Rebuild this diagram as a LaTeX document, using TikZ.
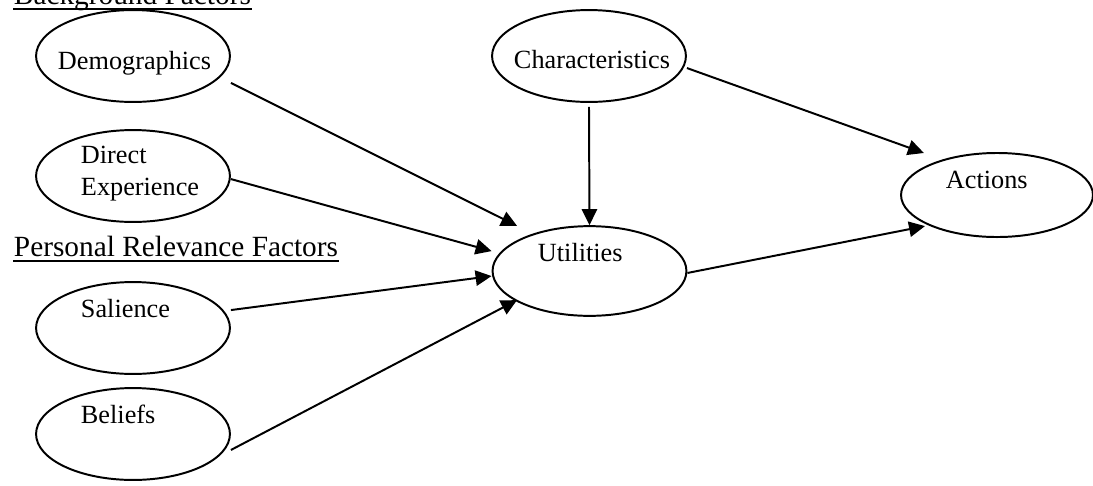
\documentclass[tikz,border=0pt]{standalone}
\usepackage{fontspec}
\setmainfont{Liberation Serif}
\usetikzlibrary{arrows.meta,shapes.geometric}

\begin{document}
\begin{tikzpicture}[x=0.457pt,y=-0.457pt,line width=.9pt,
    oval/.style={draw,ellipse,inner sep=0pt,minimum width=88.6pt,minimum height=42pt},
    txt/.style={anchor=base west,inner sep=0pt,font=\fontsize{12}{14}\selectfont},
    head/.style={txt,font=\fontsize{13.4}{16}\selectfont},
    arr/.style={-{Triangle[length=7.3pt,width=7pt]}},
    uline/.style={line width=.5pt}]

        \useasboundingbox (0,0) rectangle (1093,485);

        % ovals
        \node[oval] (dem) at (133,56) {};
        \node[oval] (dir) at (133,176) {};
        \node[oval] (sal) at (133,328) {};
        \node[oval] (bel) at (133,434) {};
        \node[oval] (cha) at (589,56) {};
        \node[oval,minimum height=41pt] (uti) at (589.5,271) {};
        \node[oval,minimum width=87.7pt,minimum height=38.4pt] (act) at (997,195) {};

        % texts
        \node[head] (bg) at (13,4) {Background Factors};
        \node[head] (pr) at (13,256) {Personal Relevance Factors};
        \node[txt] (dem-t) at (57,69) {Demographics};
        \node[txt] (dir-t) at (80,163) {Direct};
        \node[txt] (exp-t) at (80,195) {Experience};
        \node[txt] (sal-t) at (80,317) {Salience};
        \node[txt] (bel-t) at (80,423) {Beliefs};
        \node[txt] (cha-t) at (513,68) {Characteristics};
        \node[txt] (uti-t) at (537,261) {Utilities};
        \node[txt] (act-t) at (945,188) {Actions};

        \draw[uline] ([yshift=-2.3pt]bg.base west) -- ([yshift=-2.3pt]bg.base east);
        \draw[uline] ([yshift=-2.3pt]pr.base west) -- ([yshift=-2.3pt]pr.base east);

        % arrows
        \draw[arr] ([yshift=-12.3pt]dem.east) -- ([xshift=-33.1pt,yshift=20.6pt]uti.center);
        \draw[arr] ([yshift=-1.4pt]dir.east) -- ([yshift=9.1pt]uti.west);
        \draw[arr] ([yshift=8.2pt]sal.east) -- ([yshift=-2.3pt]uti.west);
        \draw[arr] ([yshift=-7.3pt]bel.east) -- ([xshift=-33.1pt,yshift=-13.3pt]uti.center);
        \draw[arr] ([yshift=-1.8pt]cha.south) -- (uti.north);
        \draw[arr] ([yshift=-5.5pt]cha.east) -- ([xshift=-33.4pt,yshift=19.2pt]act.center);
        \draw[arr] ([yshift=-0.9pt]uti.east) -- ([xshift=-32.9pt,yshift=-14.2pt]act.center);

      \end{tikzpicture}
\end{document}
